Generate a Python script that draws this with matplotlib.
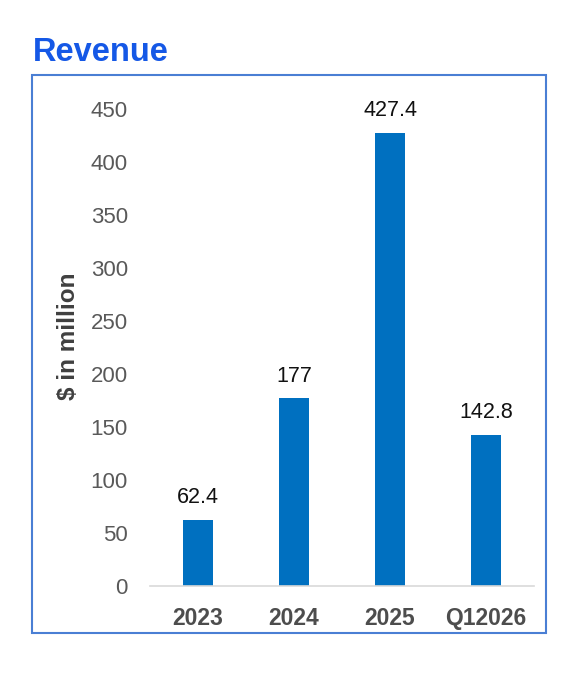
import matplotlib.pyplot as plt
from matplotlib.patches import Rectangle

plt.rcParams['font.family'] = ['Liberation Sans', 'DejaVu Sans']

periods = ['2023', '2024', '2025', 'Q12026']
revenue = [62.4, 177, 427.4, 142.8]
value_labels = ['62.4', '177', '427.4', '142.8']
y_ticks = [0, 50, 100, 150, 200, 250, 300, 350, 400, 450]

W, H = 584, 690
fig = plt.figure(figsize=(W / 100, H / 100), dpi=100)

# plot area in pixel terms, turned into figure fractions
left, right, bottom, top = 150, 534, 585.7, 109.3
ax = fig.add_axes([left / W, 1 - bottom / H, (right - left) / W, (bottom - top) / H])

x = range(len(periods))
bars = ax.bar(x, revenue, width=0.32, color='#0070c0')
ax.set_xlim(-0.5, len(periods) - 0.5)
ax.set_ylim(0, 450)

for rect, lab in zip(bars, value_labels):
    ax.annotate(lab, (rect.get_x() + rect.get_width() / 2, rect.get_height()),
                xytext=(0, 8.5), textcoords='offset points',
                ha='center', va='bottom', fontsize=15.5, color='#111111')

ax.set_xticks(list(x))
ax.set_xticklabels(periods, fontsize=16.5, fontweight='bold', color='#4d4d4d')
ax.set_yticks(y_ticks)
ax.set_yticklabels([str(t) for t in y_ticks], fontsize=16, color='#595959')
ax.tick_params(axis='both', length=0)
ax.tick_params(axis='x', pad=15)
ax.tick_params(axis='y', pad=16)

for s in ['top', 'right', 'left']:
    ax.spines[s].set_visible(False)
ax.spines['bottom'].set_color('#d9d9d9')
ax.spines['bottom'].set_linewidth(1.2)

ax.set_ylabel('$ in million', fontsize=17.5, fontweight='bold', color='#404040', va='center')
ax.yaxis.set_label_coords(-0.211, 0.524)

# chart border box
bx0, by0, bx1, by1 = 31.7, 75, 546, 632.7
fig.patches.append(Rectangle((bx0 / W, 1 - by1 / H), (bx1 - bx0) / W, (by1 - by0) / H,
                             transform=fig.transFigure, fill=False,
                             edgecolor='#4a7fd4', linewidth=1.5))

fig.text(33 / W, 1 - 61 / H, 'Revenue', fontsize=23.5, fontweight='bold',
         color='#1558e6', ha='left', va='baseline')

fig.savefig('out.png', dpi=100)
